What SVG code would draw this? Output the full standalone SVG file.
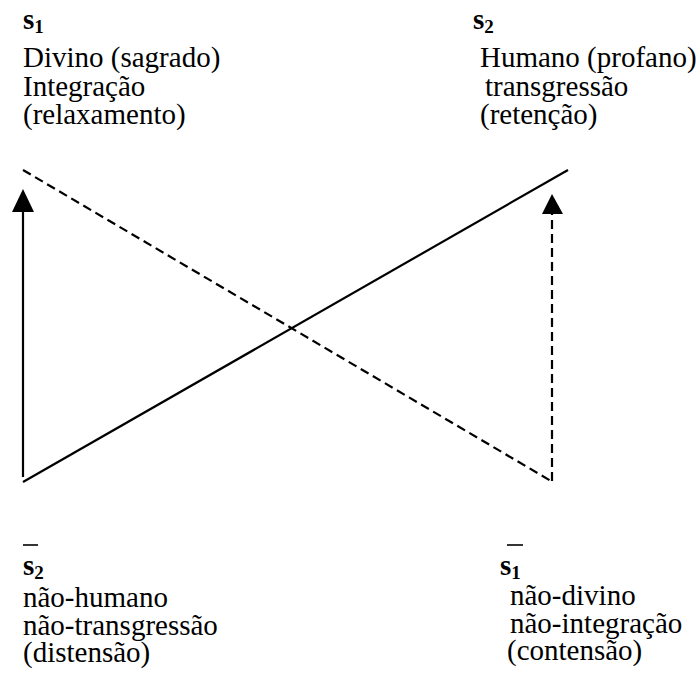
<svg xmlns="http://www.w3.org/2000/svg" width="700" height="680" viewBox="0 0 700 680">
<style>
text{font-family:"Liberation Serif","Times New Roman",serif;font-size:29px;fill:#000}
.b{font-weight:bold}
.sub{font-size:19px;font-weight:bold}
.ln{stroke:#000;stroke-width:2.2;fill:none}
.d{stroke-dasharray:9,5}
.ob{stroke:#000;stroke-width:1.6}
</style>
<rect width="700" height="680" fill="#fff"/>
<g id="connectors">
<line class="ln" x1="23" y1="477" x2="23" y2="208"/>
<polygon points="23,189 12,212 34,212" fill="#000"/>
<line class="ln d" x1="23" y1="170" x2="551" y2="481"/>
<line class="ln" x1="23" y1="482" x2="568" y2="170"/>
<line class="ln d" x1="552" y1="481" x2="552" y2="212"/>
<polygon points="552,194 542,214 563,214" fill="#000"/>
</g>
<g id="s1">
<text x="23" y="29"><tspan class="b">s</tspan><tspan class="sub" dy="4">1</tspan></text>
<text x="23" y="67">Divino (sagrado)</text>
<text x="23" y="96">Integração</text>
<text x="23" y="124">(relaxamento)</text>
</g>
<g id="s2">
<text x="473" y="29"><tspan class="b">s</tspan><tspan class="sub" dy="4">2</tspan></text>
<text x="480" y="67">Humano (profano)</text>
<text x="485" y="96">transgressão</text>
<text x="480" y="124">(retenção)</text>
</g>
<g id="not-s2">
<line class="ob" x1="23" y1="545" x2="38" y2="545"/>
<text x="23" y="575"><tspan class="b">s</tspan><tspan class="sub" dy="4">2</tspan></text>
<text x="23" y="607">não-humano</text>
<text x="23" y="635">não-transgressão</text>
<text x="23" y="662">(distensão)</text>
</g>
<g id="not-s1">
<line class="ob" x1="507" y1="545" x2="523" y2="545"/>
<text x="500" y="575"><tspan class="b">s</tspan><tspan class="sub" dy="4">1</tspan></text>
<text x="510" y="605">não-divino</text>
<text x="510" y="633">não-integração</text>
<text x="507" y="660">(contensão)</text>
</g>
</svg>
